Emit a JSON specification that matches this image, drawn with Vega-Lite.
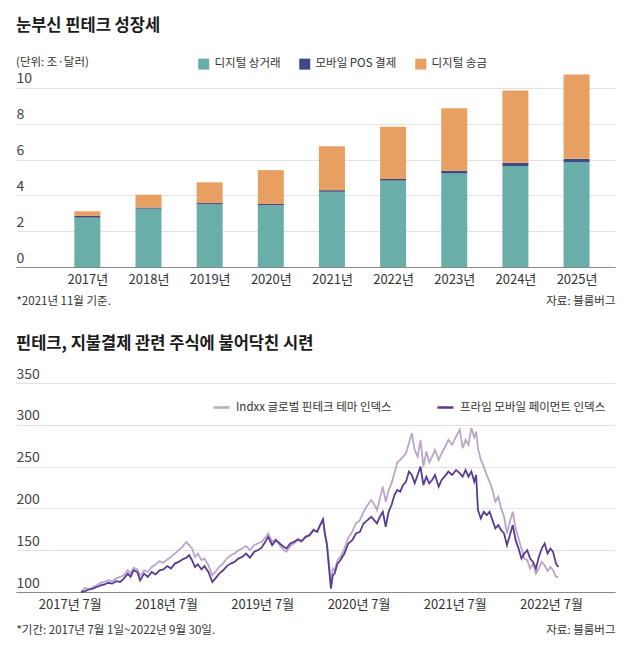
{
  "$schema": "https://vega.github.io/schema/vega-lite/v6.json",
  "background": "white",
  "padding": {"left": 16, "top": 18, "right": 15, "bottom": 4},
  "autosize": {"type": "pad"},
  "spacing": 28,
  "resolve": {"scale": {"color": "independent"}, "legend": {"color": "independent"}},
  "config": {
    "font": "Noto Sans CJK KR",
    "view": {"stroke": null},
    "axis": {"labelColor": "#444", "gridColor": "#e2e2e2", "domainColor": "#8a8a8a", "ticks": false, "tickSize": 0, "titleFontWeight": "normal", "titleColor": "#333", "titleFontSize": 11},
    "legend": {"labelColor": "#333", "labelFontSize": 11.5, "title": null},
    "title": {"color": "#1a1a1a", "fontSize": 16.5, "fontWeight": "bold", "anchor": "start", "frame": "group"}
  },
  "datasets": {
    "bars": [
      {"year": 2017, "type": "디지털 상거래", "value": 2.76}, {"year": 2017, "type": "모바일 POS 결제", "value": 0.09}, {"year": 2017, "type": "디지털 송금", "value": 0.26},
      {"year": 2018, "type": "디지털 상거래", "value": 3.26}, {"year": 2018, "type": "모바일 POS 결제", "value": 0.06}, {"year": 2018, "type": "디지털 송금", "value": 0.72},
      {"year": 2019, "type": "디지털 상거래", "value": 3.5}, {"year": 2019, "type": "모바일 POS 결제", "value": 0.07}, {"year": 2019, "type": "디지털 송금", "value": 1.16},
      {"year": 2020, "type": "디지털 상거래", "value": 3.44}, {"year": 2020, "type": "모바일 POS 결제", "value": 0.08}, {"year": 2020, "type": "디지털 송금", "value": 1.89},
      {"year": 2021, "type": "디지털 상거래", "value": 4.2}, {"year": 2021, "type": "모바일 POS 결제", "value": 0.09}, {"year": 2021, "type": "디지털 송금", "value": 2.45},
      {"year": 2022, "type": "디지털 상거래", "value": 4.82}, {"year": 2022, "type": "모바일 POS 결제", "value": 0.1}, {"year": 2022, "type": "디지털 송금", "value": 2.91},
      {"year": 2023, "type": "디지털 상거래", "value": 5.23}, {"year": 2023, "type": "모바일 POS 결제", "value": 0.15}, {"year": 2023, "type": "디지털 송금", "value": 3.48},
      {"year": 2024, "type": "디지털 상거래", "value": 5.64}, {"year": 2024, "type": "모바일 POS 결제", "value": 0.18}, {"year": 2024, "type": "디지털 송금", "value": 4.03},
      {"year": 2025, "type": "디지털 상거래", "value": 5.86}, {"year": 2025, "type": "모바일 POS 결제", "value": 0.18}, {"year": 2025, "type": "디지털 송금", "value": 4.71}
    ],
    "lines": [
      {"date": "2017-08-13", "indxx": 100, "prime": 100},
      {"date": "2017-08-28", "indxx": 105, "prime": 101},
      {"date": "2017-09-12", "indxx": 103, "prime": 103},
      {"date": "2017-09-27", "indxx": 106, "prime": 104},
      {"date": "2017-10-11", "indxx": 108, "prime": 106},
      {"date": "2017-10-26", "indxx": 111, "prime": 108},
      {"date": "2017-11-10", "indxx": 112, "prime": 109},
      {"date": "2017-11-24", "indxx": 114, "prime": 111},
      {"date": "2017-12-09", "indxx": 113, "prime": 110},
      {"date": "2017-12-24", "indxx": 116, "prime": 113},
      {"date": "2018-01-08", "indxx": 118, "prime": 112},
      {"date": "2018-01-22", "indxx": 120, "prime": 116},
      {"date": "2018-02-06", "indxx": 126, "prime": 122},
      {"date": "2018-02-17", "indxx": 122, "prime": 118},
      {"date": "2018-02-28", "indxx": 129, "prime": 126},
      {"date": "2018-03-14", "indxx": 127, "prime": 124},
      {"date": "2018-03-25", "indxx": 120, "prime": 114},
      {"date": "2018-04-09", "indxx": 126, "prime": 122},
      {"date": "2018-04-23", "indxx": 124, "prime": 118},
      {"date": "2018-05-08", "indxx": 130, "prime": 124},
      {"date": "2018-05-23", "indxx": 133, "prime": 121},
      {"date": "2018-06-07", "indxx": 137, "prime": 126},
      {"date": "2018-06-21", "indxx": 135, "prime": 127},
      {"date": "2018-07-06", "indxx": 139, "prime": 131},
      {"date": "2018-07-20", "indxx": 142, "prime": 128},
      {"date": "2018-08-04", "indxx": 146, "prime": 134},
      {"date": "2018-08-18", "indxx": 150, "prime": 136},
      {"date": "2018-09-02", "indxx": 154, "prime": 139},
      {"date": "2018-09-16", "indxx": 160, "prime": 141},
      {"date": "2018-09-27", "indxx": 156, "prime": 144},
      {"date": "2018-10-08", "indxx": 152, "prime": 138},
      {"date": "2018-10-19", "indxx": 142, "prime": 130},
      {"date": "2018-10-30", "indxx": 146, "prime": 133},
      {"date": "2018-11-13", "indxx": 138, "prime": 127},
      {"date": "2018-11-24", "indxx": 140, "prime": 131},
      {"date": "2018-12-09", "indxx": 132, "prime": 124},
      {"date": "2018-12-24", "indxx": 120, "prime": 112},
      {"date": "2019-01-04", "indxx": 124, "prime": 116},
      {"date": "2019-01-19", "indxx": 130, "prime": 122},
      {"date": "2019-02-03", "indxx": 134, "prime": 126},
      {"date": "2019-02-17", "indxx": 140, "prime": 131},
      {"date": "2019-03-04", "indxx": 144, "prime": 134},
      {"date": "2019-03-18", "indxx": 146, "prime": 136},
      {"date": "2019-04-02", "indxx": 150, "prime": 140},
      {"date": "2019-04-16", "indxx": 152, "prime": 142},
      {"date": "2019-05-01", "indxx": 155, "prime": 146},
      {"date": "2019-05-16", "indxx": 150, "prime": 141},
      {"date": "2019-05-31", "indxx": 156, "prime": 148},
      {"date": "2019-06-14", "indxx": 158, "prime": 150},
      {"date": "2019-06-29", "indxx": 160, "prime": 153},
      {"date": "2019-07-13", "indxx": 165, "prime": 160},
      {"date": "2019-07-24", "indxx": 170, "prime": 166},
      {"date": "2019-08-08", "indxx": 160, "prime": 156},
      {"date": "2019-08-22", "indxx": 163, "prime": 162},
      {"date": "2019-09-06", "indxx": 156, "prime": 158},
      {"date": "2019-09-21", "indxx": 150, "prime": 154},
      {"date": "2019-10-01", "indxx": 148, "prime": 152},
      {"date": "2019-10-16", "indxx": 155, "prime": 158},
      {"date": "2019-10-30", "indxx": 158, "prime": 160},
      {"date": "2019-11-14", "indxx": 162, "prime": 163},
      {"date": "2019-11-28", "indxx": 160, "prime": 161},
      {"date": "2019-12-13", "indxx": 166, "prime": 166},
      {"date": "2019-12-28", "indxx": 168, "prime": 168},
      {"date": "2020-01-12", "indxx": 175, "prime": 174},
      {"date": "2020-01-26", "indxx": 172, "prime": 172},
      {"date": "2020-02-06", "indxx": 180, "prime": 180},
      {"date": "2020-02-17", "indxx": 186, "prime": 187},
      {"date": "2020-02-24", "indxx": 170, "prime": 170},
      {"date": "2020-03-03", "indxx": 158, "prime": 156},
      {"date": "2020-03-11", "indxx": 132, "prime": 128},
      {"date": "2020-03-18", "indxx": 112, "prime": 104},
      {"date": "2020-03-25", "indxx": 128, "prime": 120},
      {"date": "2020-04-01", "indxx": 126, "prime": 122},
      {"date": "2020-04-12", "indxx": 138, "prime": 134},
      {"date": "2020-04-23", "indxx": 142, "prime": 138},
      {"date": "2020-05-08", "indxx": 152, "prime": 146},
      {"date": "2020-05-23", "indxx": 165, "prime": 158},
      {"date": "2020-06-07", "indxx": 172, "prime": 162},
      {"date": "2020-06-21", "indxx": 182, "prime": 170},
      {"date": "2020-07-06", "indxx": 186, "prime": 172},
      {"date": "2020-07-20", "indxx": 196, "prime": 182},
      {"date": "2020-08-04", "indxx": 204, "prime": 186},
      {"date": "2020-08-18", "indxx": 210, "prime": 190},
      {"date": "2020-08-29", "indxx": 205, "prime": 186},
      {"date": "2020-09-09", "indxx": 198, "prime": 182},
      {"date": "2020-09-20", "indxx": 212, "prime": 190},
      {"date": "2020-10-01", "indxx": 226, "prime": 196},
      {"date": "2020-10-12", "indxx": 208, "prime": 178},
      {"date": "2020-10-23", "indxx": 222, "prime": 196},
      {"date": "2020-11-03", "indxx": 230, "prime": 204},
      {"date": "2020-11-14", "indxx": 242, "prime": 216},
      {"date": "2020-11-25", "indxx": 255, "prime": 222},
      {"date": "2020-12-06", "indxx": 258, "prime": 220},
      {"date": "2020-12-17", "indxx": 262, "prime": 228},
      {"date": "2020-12-28", "indxx": 266, "prime": 232},
      {"date": "2021-01-08", "indxx": 278, "prime": 244},
      {"date": "2021-01-19", "indxx": 290, "prime": 240},
      {"date": "2021-01-30", "indxx": 270, "prime": 230},
      {"date": "2021-02-10", "indxx": 262, "prime": 240},
      {"date": "2021-02-21", "indxx": 282, "prime": 250},
      {"date": "2021-03-04", "indxx": 250, "prime": 228},
      {"date": "2021-03-15", "indxx": 268, "prime": 238},
      {"date": "2021-03-26", "indxx": 255, "prime": 230},
      {"date": "2021-04-06", "indxx": 262, "prime": 234},
      {"date": "2021-04-17", "indxx": 270, "prime": 240},
      {"date": "2021-05-01", "indxx": 258, "prime": 226},
      {"date": "2021-05-12", "indxx": 266, "prime": 234},
      {"date": "2021-05-23", "indxx": 272, "prime": 238},
      {"date": "2021-06-07", "indxx": 282, "prime": 244},
      {"date": "2021-06-21", "indxx": 276, "prime": 240},
      {"date": "2021-07-06", "indxx": 286, "prime": 246},
      {"date": "2021-07-20", "indxx": 294, "prime": 242},
      {"date": "2021-07-31", "indxx": 272, "prime": 238},
      {"date": "2021-08-11", "indxx": 282, "prime": 246},
      {"date": "2021-08-22", "indxx": 276, "prime": 238},
      {"date": "2021-09-02", "indxx": 296, "prime": 244},
      {"date": "2021-09-13", "indxx": 285, "prime": 232},
      {"date": "2021-09-20", "indxx": 292, "prime": 240},
      {"date": "2021-09-27", "indxx": 272, "prime": 198},
      {"date": "2021-10-08", "indxx": 258, "prime": 188},
      {"date": "2021-10-19", "indxx": 250, "prime": 196},
      {"date": "2021-10-30", "indxx": 240, "prime": 192},
      {"date": "2021-11-10", "indxx": 232, "prime": 196},
      {"date": "2021-11-21", "indxx": 222, "prime": 186},
      {"date": "2021-12-02", "indxx": 208, "prime": 176},
      {"date": "2021-12-13", "indxx": 214, "prime": 180},
      {"date": "2021-12-24", "indxx": 200, "prime": 174},
      {"date": "2022-01-04", "indxx": 190, "prime": 170},
      {"date": "2022-01-15", "indxx": 170, "prime": 156},
      {"date": "2022-01-26", "indxx": 184, "prime": 168},
      {"date": "2022-02-06", "indxx": 196, "prime": 180},
      {"date": "2022-02-17", "indxx": 176, "prime": 162},
      {"date": "2022-02-28", "indxx": 164, "prime": 152},
      {"date": "2022-03-11", "indxx": 152, "prime": 140},
      {"date": "2022-03-22", "indxx": 140, "prime": 146},
      {"date": "2022-04-02", "indxx": 138, "prime": 150},
      {"date": "2022-04-13", "indxx": 128, "prime": 140},
      {"date": "2022-04-24", "indxx": 134, "prime": 136},
      {"date": "2022-05-05", "indxx": 122, "prime": 128},
      {"date": "2022-05-16", "indxx": 128, "prime": 142},
      {"date": "2022-05-27", "indxx": 136, "prime": 152},
      {"date": "2022-06-07", "indxx": 132, "prime": 158},
      {"date": "2022-06-18", "indxx": 125, "prime": 146},
      {"date": "2022-06-29", "indxx": 130, "prime": 152},
      {"date": "2022-07-09", "indxx": 126, "prime": 148},
      {"date": "2022-07-20", "indxx": 118, "prime": 134},
      {"date": "2022-07-29", "indxx": 118, "prime": 130}
    ]
  },
  "vconcat": [
    {
      "width": 599,
      "height": 197,
      "title": {"text": "눈부신 핀테크 성장세", "subtitle": "(단위: 조·달러)", "subtitleFontSize": 11.5, "subtitleColor": "#333", "subtitlePadding": 22, "offset": -10},
      "data": {"name": "bars"},
      "transform": [{"calculate": "indexof(['디지털 상거래', '모바일 POS 결제', '디지털 송금'], datum.type)", "as": "stackOrder"}],
      "mark": {"type": "bar", "size": 26},
      "encoding": {
        "x": {
          "field": "year", "type": "quantitative",
          "scale": {"domain": [2015.915, 2025.547], "nice": false, "zero": false},
          "axis": {"values": [2017, 2018, 2019, 2020, 2021, 2022, 2023, 2024, 2025], "format": "d", "labelExpr": "datum.label + '년'", "grid": false, "labelPadding": 6, "labelFontSize": 13, "labelColor": "#333",
                   "title": "자료: 블룸버그", "titleX": 599, "titleY": 34, "titleAlign": "right", "titleBaseline": "middle", "titleFontSize": 11.5}
        },
        "y": {
          "field": "value", "type": "quantitative", "stack": "zero",
          "scale": {"domain": [0, 11], "nice": false},
          "axis": {"values": [0, 2, 4, 6, 8, 10], "grid": true, "domain": false, "labelAlign": "left", "labelBaseline": "bottom", "labelPadding": 0, "labelOffset": -2, "labelFontSize": 14,
                   "title": "*2021년 11월 기준.", "titleAngle": 0, "titleX": 0, "titleY": 231, "titleAlign": "left", "titleBaseline": "middle", "titleFontSize": 11.5}
        },
        "color": {
          "field": "type", "type": "nominal",
          "scale": {"domain": ["디지털 상거래", "모바일 POS 결제", "디지털 송금"], "range": ["#6aaeaa", "#3f4986", "#e8a062"]},
          "legend": {"orient": "none", "direction": "horizontal", "legendX": 182, "legendY": -12, "symbolType": "square", "symbolSize": 121, "symbolStrokeWidth": 0, "columnPadding": 18, "labelOffset": 5}
        },
        "order": {"field": "stackOrder", "type": "quantitative"}
      }
    },
    {
      "width": 599,
      "height": 209,
      "title": {"text": "핀테크, 지불결제 관련 주식에 불어닥친 시련", "offset": 15},
      "data": {"name": "lines"},
      "transform": [{"fold": ["indxx", "prime"], "as": ["series", "index"]}],
      "mark": {"type": "line", "strokeWidth": 1.8, "interpolate": "linear"},
      "encoding": {
        "x": {
          "field": "date", "type": "temporal",
          "scale": {"domain": [{"year": 2016, "month": 12, "date": 9}, {"year": 2023, "month": 3, "date": 1}], "nice": false},
          "axis": {"values": [{"year": 2017, "month": 7, "date": 1}, {"year": 2018, "month": 7, "date": 1}, {"year": 2019, "month": 7, "date": 1}, {"year": 2020, "month": 7, "date": 1}, {"year": 2021, "month": 7, "date": 1}, {"year": 2022, "month": 7, "date": 1}],
                   "format": "%Y년 %-m월", "grid": false, "labelPadding": 6, "labelFontSize": 13, "labelColor": "#333",
                   "title": "자료: 블룸버그", "titleX": 599, "titleY": 38, "titleAlign": "right", "titleBaseline": "middle", "titleFontSize": 11.5}
        },
        "y": {
          "field": "index", "type": "quantitative",
          "scale": {"domain": [100, 350], "nice": false, "zero": false},
          "axis": {"values": [100, 150, 200, 250, 300, 350], "grid": true, "domain": false, "labelAlign": "left", "labelBaseline": "bottom", "labelPadding": 0, "labelOffset": -2, "labelFontSize": 14,
                   "title": "*기간: 2017년 7월 1일~2022년 9월 30일.", "titleAngle": 0, "titleX": 0, "titleY": 247, "titleAlign": "left", "titleBaseline": "middle", "titleFontSize": 11.5}
        },
        "color": {
          "field": "series", "type": "nominal",
          "scale": {"domain": ["indxx", "prime"], "range": ["#bca5c9", "#5a3b92"]},
          "legend": {"orient": "none", "direction": "horizontal", "legendX": 196, "legendY": 15, "symbolType": "stroke", "symbolSize": 256, "symbolStrokeWidth": 2.5, "columnPadding": 40, "labelOffset": 5,
                     "labelExpr": "datum.value == 'indxx' ? 'Indxx 글로벌 핀테크 테마 인덱스' : '프라임 모바일 페이먼트 인덱스'"}
        }
      }
    }
  ]
}
